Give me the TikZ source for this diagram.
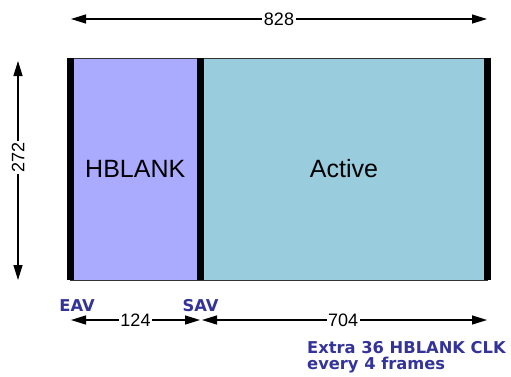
\documentclass[tikz,border=0pt]{standalone}
\usepackage{fontspec}
\setmainfont{Liberation Sans}
\newfontfamily\boldfont{DejaVu Sans}
\usetikzlibrary{arrows.meta}
\definecolor{hbfill}{HTML}{AAAAFF}
\definecolor{actfill}{HTML}{99CCDD}
\definecolor{lblue}{HTML}{333399}
\tikzset{
  dimline/.style={line width=1.3pt,{Triangle[length=15pt,width=9pt]}-{Triangle[length=15pt,width=9pt]}},
  dimlabel/.style={fill=white,inner sep=1.5pt,font=\fontsize{18}{18}\selectfont},
  region/.style={draw=black!80,line width=0.6pt,inner sep=0pt,font=\fontsize{25}{25}\selectfont},
  bar/.style={line width=7pt},
  note/.style={text=lblue,font=\boldfont\bfseries\fontsize{16.3}{16}\selectfont,inner sep=0pt}
}
\begin{document}
\begin{tikzpicture}[x=1pt,y=-1pt]
\useasboundingbox (0,0) rectangle (511,376);
% regions
\node[region,fill=hbfill,minimum width=130.5pt,minimum height=222pt] (hb) at (135.25,169) {HBLANK};
\node[region,fill=actfill,minimum width=287pt,minimum height=222pt] (act) at (344,169) {Active};
% bars
\draw[bar] (hb.north west) ++(0.5,0) coordinate (lt) -- (hb.south west -| lt) coordinate (lb);
\draw[bar] (hb.north east) -- (hb.south east);
\draw[bar] (act.north east) ++(-0.5,0) coordinate (rt) -- (act.south east -| rt) coordinate (rb);
% top dimension
\coordinate (tl) at (71,19);
\coordinate (tr) at (487,19);
\draw[dimline] (tl) -- node[dimlabel] (w828) {828} (tr);
% left dimension
\coordinate (vt) at (18,61);
\coordinate (vb) at (18,280);
\draw[dimline] (vt) -- node[dimlabel,rotate=90,pos=0.44] (h272) {272} (vb);
% bottom dimensions
\coordinate (b1) at (71,320);
\coordinate (b2) at (200,320);
\coordinate (b3) at (202,320);
\coordinate (b4) at (487,320);
\draw[dimline] (b1) -- node[dimlabel] (w124) {124} (b2);
\draw[dimline] (b3) -- node[dimlabel,pos=0.495] (w704) {704} (b4);
% labels
\node[note,anchor=base] (eav) at (77,311) {EAV};
\node[note,anchor=base] (sav) at (200.5,311) {SAV};
\node[note,anchor=north west,align=left,font=\boldfont\bfseries\fontsize{16.3}{15.5}\selectfont] (extra) at (307,341.5) {Extra 36 HBLANK CLK\\every 4 frames};
\end{tikzpicture}
\end{document}
